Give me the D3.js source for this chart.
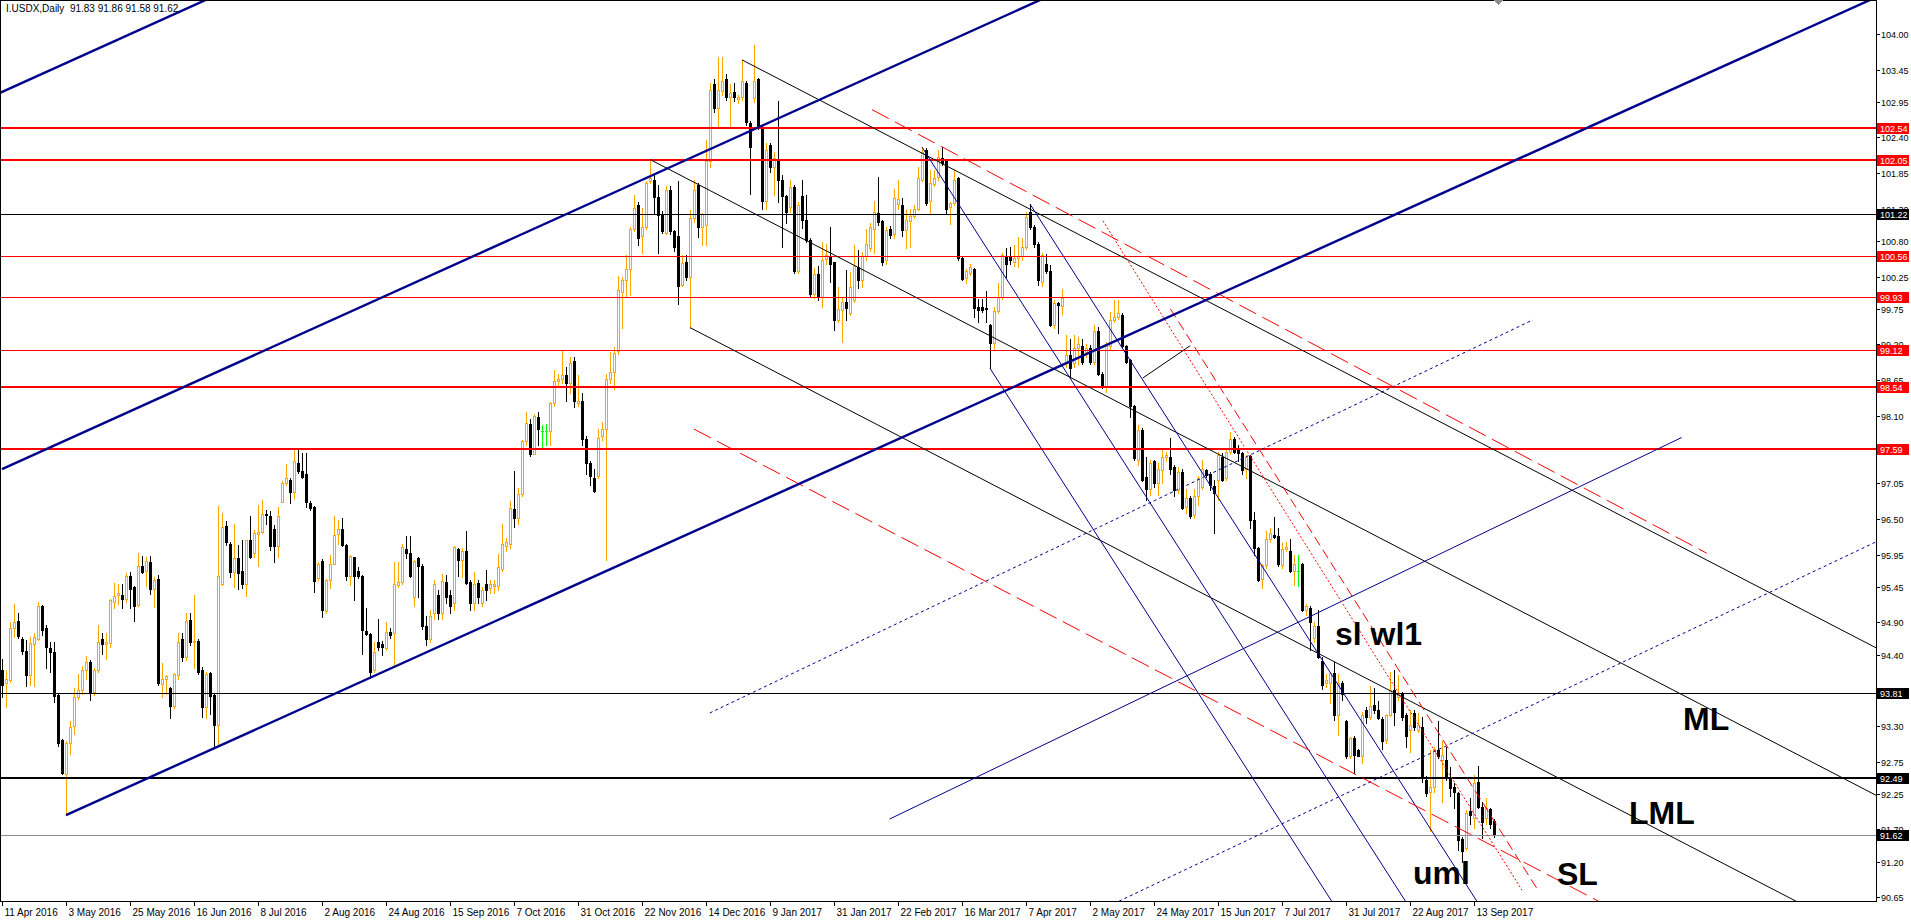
<!DOCTYPE html>
<html><head><meta charset="utf-8">
<script src="https://cdn.jsdelivr.net/npm/d3@7"></script>
<style>body{margin:0;background:#fff;overflow:hidden}svg{display:block}</style>
</head><body><svg id="c" width="1911" height="921"></svg>
<script>
const title = "I.USDX,Daily  91.83 91.86 91.58 91.62";
// daily bars [open, high, low, close], 11 Apr 2016 .. 20 Sep 2017
const bars = [
[94.16,94.34,93.75,93.93],[93.97,94.16,93.60,94.03],[94.01,94.91,93.98,94.81],[94.81,95.19,94.68,94.90],[94.92,95.04,94.66,94.69],
[94.64,94.68,94.42,94.46],[94.46,94.63,93.91,94.08],[94.09,94.68,93.93,94.59],[94.57,94.74,93.91,94.67],[94.65,95.21,94.63,95.15],
[95.15,95.17,94.70,94.79],[94.82,94.86,94.20,94.52],[94.51,94.60,94.14,94.45],[94.44,94.60,93.67,93.76],[93.78,93.80,92.99,93.03],
[93.08,93.10,92.55,92.57],[92.55,93.07,91.92,93.04],[93.03,93.37,92.87,93.29],[93.30,93.89,93.18,93.75],[93.75,94.11,93.72,93.85],
[93.85,94.23,93.80,94.16],[94.16,94.38,94.03,94.29],[94.29,94.32,93.70,93.82],[93.82,94.19,93.78,94.16],[94.16,94.86,94.14,94.60],
[94.64,94.73,94.42,94.57],[94.56,94.73,94.34,94.60],[94.58,95.26,94.52,95.24],[95.21,95.51,95.13,95.31],[95.32,95.49,95.19,95.36],
[95.32,95.50,95.12,95.26],[95.26,95.67,95.22,95.62],[95.62,95.68,95.12,95.42],[95.45,95.47,94.93,95.16],[95.17,95.97,95.16,95.78],
[95.77,95.93,95.67,95.68],[95.70,95.92,95.47,95.85],[95.83,95.93,95.34,95.42],[95.42,95.61,95.14,95.55],[95.57,95.64,93.94,93.96],
[93.95,94.28,93.74,94.03],[94.02,94.08,93.80,94.07],[93.89,93.90,93.43,93.61],[93.61,94.12,93.58,94.10],[94.09,94.74,94.03,94.60],
[94.64,94.74,94.30,94.36],[94.36,95.04,94.32,94.92],[94.94,95.04,94.55,94.60],[94.60,95.32,94.19,94.62],[94.62,94.64,94.10,94.14],
[94.16,94.21,93.44,93.60],[93.60,94.13,93.42,94.11],[94.12,94.13,93.48,93.76],[93.78,93.80,92.99,93.31],[93.31,96.70,93.02,95.62],
[95.50,96.60,95.48,96.37],[96.39,96.47,96.10,96.14],[96.12,96.15,95.60,95.68],[95.68,96.42,95.45,95.89],[95.89,96.10,95.41,95.66],
[95.69,96.18,95.43,95.49],[95.49,96.18,95.31,96.17],[96.18,96.54,95.90,95.92],[95.97,96.33,95.92,96.28],[96.27,96.71,95.77,96.30],
[96.30,96.79,96.28,96.58],[96.58,96.64,96.42,96.56],[96.55,96.62,96.02,96.08],[96.35,96.40,95.83,96.08],[96.08,96.69,95.92,96.55],
[96.77,97.08,96.76,97.05],[97.05,97.35,97.02,97.13],[97.11,97.13,96.74,96.91],[96.91,97.57,96.82,97.40],[97.36,97.59,97.21,97.25],
[97.24,97.52,97.13,97.15],[97.19,97.52,96.69,96.76],[96.74,96.78,96.64,96.67],[96.69,96.70,95.37,95.54],[95.58,95.84,95.56,95.81],
[95.85,95.88,94.99,95.09],[95.08,95.57,95.05,95.56],[95.56,95.94,95.43,95.80],[95.81,96.54,95.80,96.26],[96.27,96.48,96.12,96.34],
[96.35,96.52,96.08,96.10],[96.10,96.11,95.55,95.62],[95.62,95.94,95.48,95.93],[95.91,95.92,95.25,95.62],[95.70,95.76,95.58,95.62],
[95.62,95.63,94.42,94.78],[94.77,95.12,94.70,94.72],[94.72,94.73,94.06,94.14],[94.17,94.60,94.13,94.45],[94.60,94.95,94.47,94.52],
[94.56,94.62,94.40,94.52],[94.51,94.90,94.47,94.76],[94.76,94.82,94.66,94.70],[94.73,95.83,94.21,95.49],[95.48,95.84,95.45,95.53],
[95.53,96.12,95.49,96.07],[96.04,96.23,95.90,95.97],[95.97,96.23,95.60,95.62],[95.30,95.87,95.15,95.85],[95.90,95.92,95.30,95.78],
[95.78,95.80,94.80,94.85],[94.85,95.00,94.55,94.65],[94.65,95.10,94.60,95.00],[95.05,95.55,94.95,95.49],[95.32,95.40,94.95,95.05],
[95.05,95.65,94.95,95.54],[95.53,95.64,95.20,95.29],[95.32,95.40,95.05,95.15],[95.20,96.09,95.10,96.07],[96.04,96.05,95.62,95.87],
[95.87,96.05,95.60,96.01],[96.00,96.32,95.49,95.51],[95.53,95.55,95.10,95.20],[95.20,95.68,95.10,95.49],[95.51,95.55,95.20,95.29],
[95.20,95.45,95.15,95.40],[95.49,95.71,95.25,95.40],[95.43,95.55,95.35,95.49],[95.46,95.55,95.35,95.49],[95.46,95.96,95.40,95.76],
[95.73,96.43,95.70,96.12],[96.09,96.20,96.00,96.15],[96.12,96.78,96.05,96.67],[96.65,97.24,96.37,96.51],[96.51,96.98,96.43,96.89],
[96.89,97.72,96.85,97.70],[97.70,98.16,97.65,97.98],[97.97,98.05,97.48,97.51],[97.51,98.12,97.50,98.10],[98.07,98.16,97.64,97.89],
[97.86,97.95,97.61,97.86],[97.86,97.97,97.64,97.86],[97.86,98.31,97.64,98.29],[98.29,98.80,98.25,98.63],[98.63,98.74,98.55,98.67],
[98.66,99.11,98.60,98.72],[98.72,98.85,98.32,98.61],[98.61,99.00,98.45,98.92],[98.94,99.00,98.23,98.32],[98.30,98.72,98.25,98.32],
[98.33,98.45,97.64,97.73],[97.73,97.78,97.20,97.36],[97.36,97.40,97.03,97.17],[97.14,97.28,96.92,96.93],[97.17,97.89,97.14,97.75],
[97.78,98.00,97.72,97.89],[97.89,98.74,95.86,98.66],[98.66,99.09,98.60,98.77],[98.77,99.16,98.51,99.07],[99.10,100.26,99.05,100.04],
[100.01,100.24,99.46,100.20],[100.20,100.59,99.93,100.36],[100.36,101.01,99.96,100.98],[100.98,101.51,100.95,101.31],[101.36,101.40,100.73,100.84],
[100.87,101.31,100.62,101.01],[101.01,101.73,100.98,101.69],[101.73,102.06,101.70,101.78],[101.75,101.82,101.21,101.48],[101.48,101.67,100.62,101.20],
[101.20,101.26,100.92,100.95],[100.92,101.65,100.90,101.59],[101.59,101.65,100.90,100.95],[100.95,100.97,100.65,100.70],[100.88,101.73,99.82,100.11],
[100.12,100.59,100.10,100.46],[100.48,100.59,100.20,100.24],[100.24,101.28,99.46,101.15],[101.15,101.74,101.10,101.59],[101.67,101.70,100.86,101.01],
[101.01,101.23,100.73,101.21],[101.04,102.36,100.73,102.03],[102.03,103.24,101.95,103.13],[103.22,103.30,102.80,102.86],[102.86,103.64,102.55,103.13],
[103.12,103.64,103.05,103.27],[103.30,103.38,102.98,103.02],[103.03,103.22,102.58,103.08],[103.11,103.24,102.97,103.03],[103.00,103.05,102.94,103.02],
[103.02,103.60,102.98,103.27],[103.24,103.28,102.60,102.64],[102.63,102.66,101.52,102.26],[103.01,103.83,102.95,103.27],[103.30,103.32,102.53,102.55],
[102.55,102.58,101.29,101.42],[101.42,102.31,101.29,102.20],[102.29,102.32,101.87,101.95],[101.95,102.18,101.51,102.08],[102.03,102.97,101.40,101.74],
[101.75,101.82,100.71,101.49],[101.49,101.51,101.07,101.24],[101.32,101.74,101.25,101.64],[101.64,101.66,100.30,100.33],[100.33,101.40,100.30,101.36],
[101.49,101.75,101.00,101.13],[101.12,101.51,100.78,100.81],[100.81,100.84,99.95,99.98],[99.98,100.38,99.91,100.29],[100.29,100.41,99.88,99.95],
[99.94,100.79,99.78,100.51],[100.52,100.76,100.45,100.58],[100.56,101.02,100.17,100.45],[100.48,100.48,99.42,99.57],[99.57,100.09,99.55,99.74],
[99.73,99.94,99.24,99.86],[99.86,100.35,99.58,99.77],[99.68,100.32,99.65,100.09],[99.89,100.74,99.85,100.41],[100.40,100.66,100.07,100.20],
[100.20,100.63,100.09,100.56],[100.56,100.99,100.50,100.76],[100.69,101.07,100.65,101.02],[100.98,101.41,100.61,101.25],[101.23,101.79,101.05,101.10],
[101.11,101.12,100.43,100.48],[100.50,101.01,100.45,100.97],[100.98,101.03,100.85,100.89],[100.91,101.61,100.85,101.46],[101.37,101.75,101.30,101.45],
[101.36,101.46,100.88,100.97],[100.97,101.28,100.69,101.13],[101.11,101.30,100.71,101.19],[101.19,101.36,101.15,101.30],[101.30,101.95,101.28,101.77],
[101.75,102.25,101.72,102.18],[102.21,102.23,101.36,101.39],[101.42,101.90,101.23,101.70],[101.68,101.90,101.65,101.78],[101.79,102.21,101.75,102.10],
[102.08,102.26,101.98,102.00],[102.03,102.06,101.22,101.30],[101.32,101.40,101.06,101.39],[101.39,101.90,101.35,101.74],[101.77,101.79,100.50,100.53],
[100.53,100.55,100.20,100.21],[100.22,100.36,100.15,100.34],[100.31,100.44,100.28,100.40],[100.36,100.38,99.63,99.76],[99.78,99.90,99.54,99.73],
[99.78,99.90,99.70,99.73],[99.76,100.02,99.54,99.74],[99.50,99.52,98.83,99.22],[99.22,99.78,99.12,99.71],[99.71,100.15,99.68,99.94],
[99.94,100.61,99.90,100.58],[100.57,100.69,100.25,100.44],[100.57,100.70,100.45,100.51],[100.48,100.73,100.41,100.54],[100.54,100.86,100.40,100.56],
[100.56,100.85,100.50,100.71],[100.71,101.24,100.68,101.17],[101.25,101.37,100.99,101.02],[101.02,101.04,100.70,100.76],[100.76,100.78,100.12,100.20],
[100.17,100.61,100.10,100.58],[100.45,100.60,100.30,100.33],[100.33,100.43,99.48,99.50],[99.50,99.89,99.45,99.84],[99.84,99.86,99.37,99.81],
[99.80,100.05,99.67,99.91],[98.92,99.35,98.85,99.04],[99.04,99.29,98.70,98.83],[98.91,99.35,98.85,99.14],[99.14,99.32,98.88,99.20],
[99.17,99.29,98.90,98.93],[99.09,99.20,99.00,99.14],[99.14,99.19,98.90,98.93],[98.93,99.50,98.90,99.40],[99.40,99.47,98.73,98.75],
[98.75,98.77,98.52,98.55],[98.55,99.23,98.47,99.17],[99.17,99.70,99.12,99.58],[99.58,99.88,99.55,99.63],[99.63,99.88,99.60,99.68],
[99.66,99.69,99.15,99.17],[99.17,99.19,98.91,98.93],[98.96,98.97,98.08,98.24],[98.25,98.26,97.42,97.44],[97.41,97.95,97.34,97.88],
[97.88,97.90,97.08,97.10],[97.15,97.46,96.80,96.97],[96.97,97.42,96.87,97.36],[97.39,97.41,97.00,97.05],[97.05,97.36,96.87,97.28],
[97.26,97.57,97.05,97.46],[97.46,97.54,97.40,97.49],[97.46,97.76,97.20,97.28],[97.31,97.34,96.85,96.95],[96.95,97.31,96.90,97.23],
[97.22,97.28,96.65,96.67],[96.69,96.96,96.59,96.82],[96.82,96.85,96.51,96.54],[96.56,96.96,96.51,96.85],[96.85,97.17,96.72,97.13],
[96.99,97.41,96.97,97.28],[97.26,97.28,97.15,97.18],[97.20,97.22,96.95,97.03],[97.01,97.10,96.29,96.90],[97.10,97.54,96.80,97.49],
[97.46,97.52,97.08,97.10],[97.13,97.57,97.10,97.54],[97.53,97.85,97.50,97.73],[97.73,97.77,97.52,97.53],[97.59,97.65,97.39,97.52],
[97.52,97.54,97.20,97.26],[97.28,97.49,97.13,97.46],[97.48,97.49,96.36,96.49],[96.49,96.61,95.94,96.05],[96.05,96.07,95.54,95.56],
[95.57,95.81,95.43,95.79],[95.79,96.31,95.75,96.19],[96.19,96.36,96.15,96.28],[96.25,96.53,96.20,96.22],[96.23,96.36,95.78,95.80],
[95.79,96.13,95.75,96.03],[96.03,96.15,96.00,96.07],[96.01,96.19,95.68,95.70],[95.70,95.94,95.48,95.80],[95.70,95.94,95.46,95.70],
[95.80,95.82,95.07,95.09],[95.09,95.19,95.02,95.15],[95.13,95.15,94.48,94.91],[94.66,94.91,94.60,94.85],[94.84,95.09,94.35,94.37],
[94.31,94.37,93.87,93.93],[93.96,94.11,93.90,94.01],[93.96,94.14,93.65,94.12],[94.12,94.29,93.39,93.47],[93.47,94.11,93.16,93.96],
[93.96,93.99,93.70,93.80],[93.37,93.39,92.81,92.83],[92.83,93.13,92.80,93.11],[93.11,93.14,92.57,92.85],[92.93,92.95,92.83,92.84],
[92.83,93.52,92.72,93.47],[93.55,93.60,93.34,93.44],[93.44,93.92,93.40,93.61],[93.63,93.88,93.50,93.54],[93.55,93.68,93.40,93.42],
[93.40,93.44,92.95,93.07],[93.08,93.49,93.03,93.47],[93.47,94.14,93.45,93.86],[93.86,94.17,93.32,93.52],[93.75,94.09,93.70,93.80],
[93.80,93.83,93.39,93.44],[93.47,93.50,92.98,93.14],[93.24,93.55,92.90,93.32],[93.50,93.55,93.24,93.29],[93.24,93.50,93.20,93.32],
[93.29,93.44,92.44,92.52],[92.46,92.52,92.21,92.27],[92.28,92.93,91.67,92.36],[92.36,92.98,92.28,92.94],[92.93,93.37,92.81,92.83],
[92.77,93.07,92.13,92.85],[92.77,92.98,92.46,92.49],[92.49,92.67,92.21,92.34],[92.36,92.41,92.03,92.28],[92.26,92.28,91.38,91.54],
[91.55,91.59,91.20,91.36],[91.41,92.00,91.38,91.95],[91.98,92.18,91.79,91.92],[91.87,92.54,91.72,92.41],[92.44,92.68,92.03,92.04],
[92.04,92.13,91.56,91.82],[91.87,92.18,91.79,92.03],[92.01,92.03,91.72,91.79],[91.83,91.86,91.58,91.62]
];
const dateLabels = ["11 Apr 2016","3 May 2016","25 May 2016","16 Jun 2016","8 Jul 2016","2 Aug 2016","24 Aug 2016","15 Sep 2016","7 Oct 2016","31 Oct 2016","22 Nov 2016","14 Dec 2016","9 Jan 2017","31 Jan 2017","22 Feb 2017","16 Mar 2017","7 Apr 2017","2 May 2017","24 May 2017","15 Jun 2017","7 Jul 2017","31 Jul 2017","22 Aug 2017","13 Sep 2017"];
const dateLabelEvery = 16;
const priceTicks = [104.00,103.45,102.95,102.40,101.85,101.30,100.80,100.25,99.75,99.20,98.65,98.10,97.55,97.05,96.50,95.95,95.45,94.90,94.40,93.85,93.30,92.75,92.25,91.70,91.20,90.65];
const levels = [102.54,102.05,101.22,100.56,99.93,99.12,98.54,97.59,93.81,92.49,91.62];
const levelKinds = ["redBold","redBold","black","red","red","red","redBold","redBold","black","blackBold","gray"];
// drawn objects: [bar index, price] pairs
const channelLines = [[[-0.5,103.09],[60,104.78]],[[0,97.27],[470,110.41]],[[16,91.92],[470,104.61]]];
const forkBlack = [[[185,103.60],[470,94.46]],[[162,102.06],[470,92.18]],[[172,99.46],[470,89.90]],[[285.2,98.68],[297.05,99.18]]];
const forkBlue = [[[230,102.25],[400,85.85]],[[247,98.83],[400,84.07]],[[257,101.37],[400,87.57]],[[221.9,91.86],[419.9,97.76]]];
const blueDotted = [[[176.95,93.50],[382.75,99.58]],[[279.25,90.59],[470,96.19]]];
const redDashed = [[[217.5,102.83],[426.2,95.97]],[[173,97.89],[405,90.40]]];
const redDotted = [[[275.25,101.11],[380,90.76]]];
const redShortDash = [[[292.1,99.75],[384,90.76]]];
const notes = [["sl wl1",333.25,94.55],["ML",420.25,93.24],["LML",406.75,91.78],["SL",388.75,90.84],["uml",352.75,90.86]];

const W=1911,H=921, plotR=1876, plotB=901;
const x = d3.scaleLinear().domain([0,468.5]).range([2,plotR]);
const y = d3.scaleLinear().domain([90.65,104.00]).range([897.3,34]);
const svg = d3.select("#c");
const FONT = "'Liberation Sans', Arial, sans-serif";
svg.append("rect").attr("width",W).attr("height",H).attr("fill","#fff");
svg.append("defs").append("clipPath").attr("id","pc").append("rect").attr("x",0).attr("y",0).attr("width",plotR).attr("height",plotB);
const plot = svg.append("g").attr("clip-path","url(#pc)");
const crisp = v => Math.round(v)+0.5;

// candles
const cg = plot.append("g").attr("shape-rendering","crispEdges");
bars.forEach((b,i)=>{
  const [o,h,l,c]=b; const cx=crisp(x(i));
  const hi=Math.max(h,o,c), lo=Math.min(l,o,c);
  const col = c>o ? "#FFA500" : (c<o ? "#000" : "#00FF00");
  cg.append("line").attr("x1",cx).attr("x2",cx).attr("y1",Math.round(y(hi))).attr("y2",Math.round(y(lo))+1).attr("stroke",col);
  if(c===o){
    cg.append("line").attr("x1",cx-1.5).attr("x2",cx+1.5).attr("y1",crisp(y(o))).attr("y2",crisp(y(o))).attr("stroke",col);
  } else {
    const t=crisp(y(Math.max(o,c))), bt=crisp(y(Math.min(o,c)));
    cg.append("rect").attr("x",cx-1).attr("width",2).attr("y",t).attr("height",Math.max(0,bt-t))
      .attr("fill", c>o?"#fff":"#000").attr("stroke",col);
  }
});

// horizontal levels
const lvStyle = {redBold:["#FF0000",2],red:["#FF0000",1],black:["#000",1],blackBold:["#000",2],gray:["#8C8C8C",1]};
const lg = plot.append("g").attr("shape-rendering","crispEdges");
levels.forEach((p,i)=>{
  const [col,w]=lvStyle[levelKinds[i]]; const yy = w===1?crisp(y(p)):Math.round(y(p));
  lg.append("line").attr("x1",0).attr("x2",plotR).attr("y1",yy).attr("y2",yy).attr("stroke",col).attr("stroke-width",w);
});

function drawLines(set, col, w, dash){
  set.forEach(s=>{
    const ln = plot.append("line").attr("x1",x(s[0][0])).attr("y1",y(s[0][1])).attr("x2",x(s[1][0])).attr("y2",y(s[1][1]))
      .attr("stroke",col).attr("stroke-width",w);
    if(dash) ln.attr("stroke-dasharray",dash);
  });
}
drawLines(forkBlack,"#000",1);
drawLines(forkBlue,"#00008B",1);
drawLines(blueDotted,"#00008B",1,"3,3");
drawLines(redDashed,"#FF0000",1,"19,7");
drawLines(redDotted,"#FF0000",1,"2,2");
drawLines(redShortDash,"#FF0000",1,"10,5");
drawLines(channelLines,"#00008B",2.4);

// text notes
notes.forEach(n=>{
  plot.append("text").attr("x",x(n[1])).attr("y",y(n[2])).text(n[0])
    .attr("font-family",FONT).attr("font-weight","bold").attr("font-size",32).attr("fill","#000");
});

// frame
const fg = svg.append("g").attr("shape-rendering","crispEdges");
fg.append("rect").attr("x",0.5).attr("y",0.5).attr("width",plotR).attr("height",plotB).attr("fill","none").attr("stroke","#000");
fg.append("path").attr("d",`M1494,0 L1503,0 L1498.5,5 Z`).attr("fill","#8C8C8C");

// right price axis
const ax = svg.append("g");
priceTicks.forEach(p=>{
  const yy=crisp(y(p));
  ax.append("line").attr("x1",plotR+0.5).attr("x2",plotR+4).attr("y1",yy).attr("y2",yy).attr("stroke","#000").attr("shape-rendering","crispEdges");
  ax.append("text").attr("x",plotR+5).attr("y",yy+3.5).text(p.toFixed(2)).attr("font-family",FONT).attr("font-size",9).attr("fill","#000");
});
levels.forEach((p,i)=>{
  const k=levelKinds[i]; const bg = k.startsWith("red")?"#FF0000":"#000";
  const yy=Math.round(y(p));
  ax.append("rect").attr("x",plotR+1).attr("y",yy-5).attr("width",32).attr("height",11).attr("fill",bg);
  ax.append("text").attr("x",plotR+4).attr("y",yy+4).text(p.toFixed(2)).attr("font-family",FONT).attr("font-size",9).attr("fill","#fff");
});

// bottom date axis
dateLabels.forEach((d,k)=>{
  const xx=crisp(x(k*dateLabelEvery));
  ax.append("line").attr("x1",xx).attr("x2",xx).attr("y1",plotB).attr("y2",plotB+5).attr("stroke","#000").attr("shape-rendering","crispEdges");
  ax.append("text").attr("x",xx+2).attr("y",plotB+15).text(d).attr("font-family",FONT).attr("font-size",10).attr("fill","#000");
});

// title
svg.append("text").attr("x",6).attr("y",12).text(title).attr("font-family",FONT).attr("font-size",10)
  .attr("fill","#000").style("white-space","pre");
</script>
</body></html>
